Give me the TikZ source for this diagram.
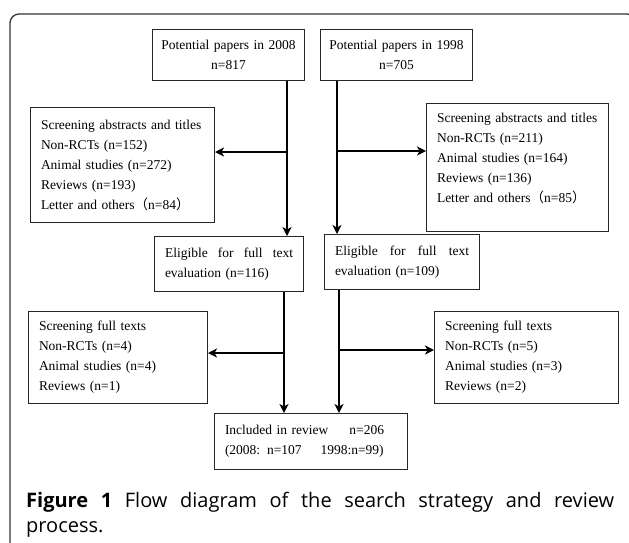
\documentclass[tikz,border=0pt]{standalone}
\usepackage{fontspec}
\setmainfont{Liberation Serif}
\newfontfamily\capfont{Open Sans}
\newfontfamily\cjk{Noto Sans CJK SC}
\usetikzlibrary{arrows.meta}

\begin{document}
\begin{tikzpicture}[x=1pt, y=-1pt,
    >={Stealth[length=9pt,width=9pt,inset=2.5pt]},
    box/.style = {draw=black!85, line width=1pt, anchor=north west,
      inner xsep=10.5pt, inner ysep=0pt, align=left,
      font=\fontsize{13.5}{20}\selectfont},
    top/.style = {box, align=center, inner xsep=4pt, minimum width=152pt,
      minimum height=51pt, text width=144pt},
    flow/.style = {->, line width=1.6pt}]
    \useasboundingbox (0,0) rectangle (629,542);
    \fill[white] (0,0) rectangle (629,542);
    \clip (0,0) rectangle (629,542);
    \draw[line width=1.3pt, black!80, rounded corners=9pt] (10,14) rectangle (636,552);

    % 2008
    \node[top] (p08) at (152,29) {Potential papers in 2008\\n=817};
    \node[box, minimum width=184pt, minimum height=115pt, text width=163pt] (s08) at (30,107)
      {Screening abstracts and titles\\Non-RCTs (n=152)\\Animal studies (n=272)\\Reviews (n=193)\\Letter and others{\cjk （}n=84{\cjk ）}};
    \node[box, minimum width=149pt, minimum height=55pt, text width=128pt] (e08) at (154,236)
      {Eligible\hfill for\hfill full\hfill text\\evaluation (n=116)};
    \node[box, minimum width=179pt, minimum height=92pt, text width=158pt] (f08) at (28,311)
      {Screening full texts\\Non-RCTs (n=4)\\Animal studies (n=4)\\Reviews (n=1)};

    % 1998
    \node[top] (p98) at (320,29) {Potential papers in 1998\\n=705};
    \node[box, minimum width=182pt, minimum height=128pt, text width=161pt] (s98) at (426,103)
      {Screening abstracts and titles\\Non-RCTs (n=211)\\Animal studies (n=164)\\Reviews (n=136)\\Letter and others{\cjk （}n=85{\cjk ）}\rule[-19pt]{0pt}{0pt}};
    \node[box, minimum width=155pt, minimum height=55pt, text width=134pt] (e98) at (324,234)
      {Eligible\hfill for\hfill full\hfill text\\evaluation (n=109)};
    \node[box, minimum width=184pt, minimum height=92pt, text width=163pt] (f98) at (434,311)
      {Screening full texts\\Non-RCTs (n=5)\\Animal studies (n=3)\\Reviews (n=2)};

    % end
    \node[box, minimum width=193pt, minimum height=56pt, text width=172pt] (inc) at (214,413)
      {Included in review\hspace{21pt}n=206\\(2008: n=107\hspace{19pt}1998:n=99)};

    \coordinate (b08) at (287,152);
    \coordinate (c08) at (284,353);
    \draw[flow] (b08 |- p08.south) -- (b08 |- e08.north);
    \draw[flow] (b08) -- (b08 -| s08.east);
    \draw[flow] (c08 |- e08.south) -- (c08 |- inc.north);
    \draw[flow] (c08) -- (c08 -| f08.east);

    \coordinate (b98) at (337,151);
    \coordinate (c98) at (339,350);
    \draw[flow] (b98 |- p98.south) -- (b98 |- e98.north);
    \draw[flow] (b98) -- (b98 -| s98.west);
    \draw[flow] (c98 |- e98.south) -- (c98 |- inc.north);
    \draw[flow] (c98) -- (c98 -| f98.west);

    % caption
    \node[anchor=north west, inner sep=0pt, text width=588pt, align=justify,
      font=\capfont\fontsize{20}{25}\selectfont] (cap) at (26,492)
      {\textbf{Figure 1} Flow diagram of the search strategy and review\linebreak process.};
\end{tikzpicture}
\end{document}
